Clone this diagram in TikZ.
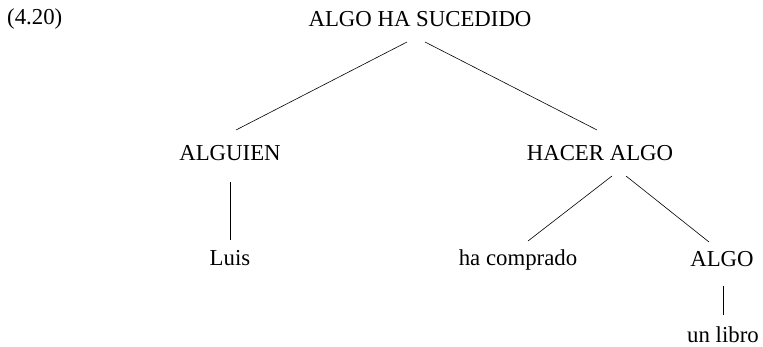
\documentclass[tikz,border=0pt]{standalone}
\usepackage{fontspec}
\setmainfont{Liberation Serif}
\usepackage{tikz}
\usetikzlibrary{positioning, calc}
\tikzset{branch/.style={line width=0.6pt}}

\begin{document}
\begin{tikzpicture}[x=1pt, y=1pt, font=\fontsize{22.8}{27}\selectfont, lbl/.style={inner sep=0pt, anchor=base}]
                \useasboundingbox (0, 0) rectangle (763, 347);
                \node[lbl, anchor=base west] (num) at (7, 322) {(4.20)};
                \node[lbl] (root) at (420, 320) {ALGO HA SUCEDIDO};
                \node[lbl] (alguien) at (230, 186) {ALGUIEN};
                \node[lbl] (hacer) at (600, 186) {HACER ALGO};
                \node[lbl] (luis) at (230, 81) {Luis};
                \node[lbl] (comprado) at (518, 81) {ha comprado};
                \node[lbl] (algo) at (722, 80) {ALGO};
                \node[lbl] (libro) at (723, 4) {un libro};
                \draw[branch] ([shift={(-13, -15)}]root.base) -- ([shift={(6, 31)}]alguien.base);
                \draw[branch] ([shift={(5, -15)}]root.base) -- ([shift={(-3, 31)}]hacer.base);
                \draw[branch] ([shift={(0, -21)}]alguien.base) -- ([shift={(0, 26)}]luis.base);
                \draw[branch] ([shift={(12, -15)}]hacer.base) -- ([shift={(10, 25)}]comprado.base);
                \draw[branch] ([shift={(26, -15)}]hacer.base) -- ([shift={(-13, 25)}]algo.base);
                \draw[branch] ([shift={(1, -19)}]algo.base) -- ([shift={(0, 28)}]libro.base);
            \end{tikzpicture}
\end{document}
